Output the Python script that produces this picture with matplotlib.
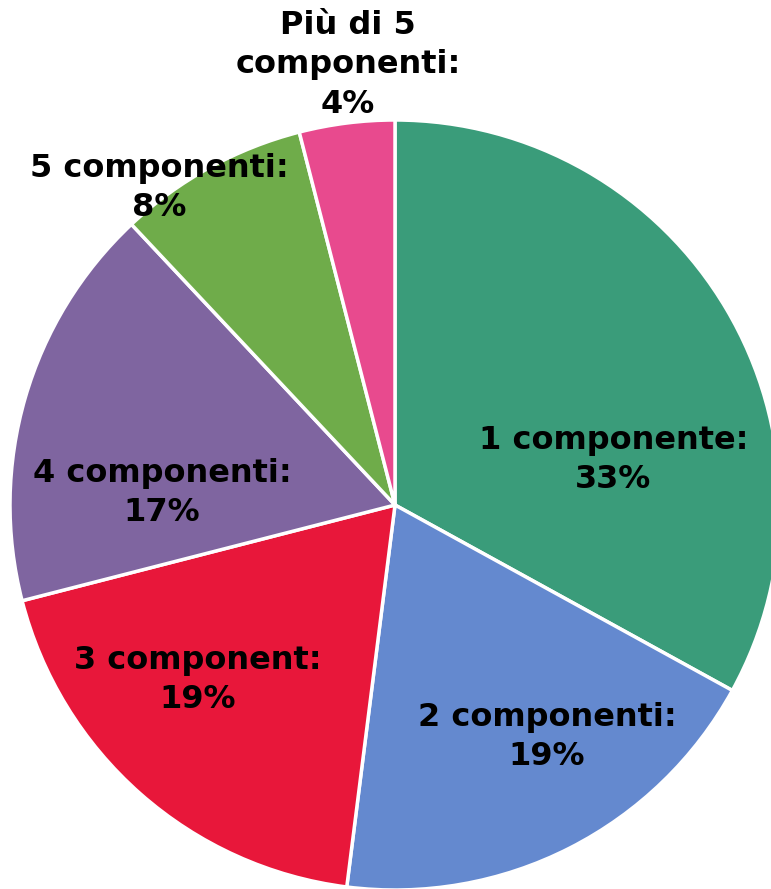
import matplotlib.pyplot as plt

labels = ["1 componente:", "2 componenti:", "3 component:", "4 componenti:",
          "5 componenti:", "Più di 5\ncomponenti:"]
values = [33, 19, 19, 17, 8, 4]
colors = ["#3A9C7A", "#6489CF", "#E8173A", "#7F65A0", "#6FAC4A", "#E84A8E"]

# label centres in data units (pie radius = 1)
label_pos = [(0.567, 0.117), (0.395, -0.603), (-0.512, -0.455),
             (-0.605, 0.031), (-0.612, 0.823), (-0.122, 1.143)]

fig = plt.figure(figsize=(7.71, 8.89), dpi=100)
ax = fig.add_axes([0, 0, 1, 1])

ax.pie(values, colors=colors, startangle=90, counterclock=False, radius=1,
       wedgeprops=dict(edgecolor="white", linewidth=2.5))

for lab, v, (x, y) in zip(labels, values, label_pos):
    ax.text(x, y, f"{lab}\n{v}%", ha="center", va="center", fontsize=23,
            fontweight="bold", color="black", linespacing=1.35,
            family="DejaVu Sans")

r = 385.0
ax.set_xlim(-395 / r, (771 - 395) / r)
ax.set_ylim(-(889 - 505) / r, 505 / r)
ax.set_aspect("auto")
ax.axis("off")

fig.savefig("out.png", dpi=100)
